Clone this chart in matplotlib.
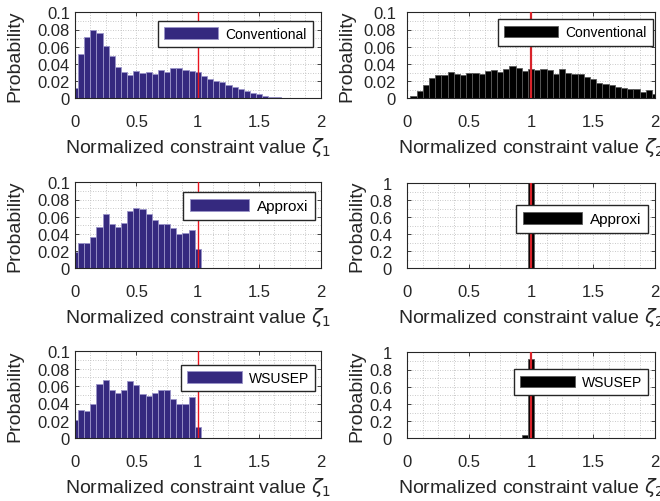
import numpy as np
import matplotlib
matplotlib.use("Agg")
import matplotlib.pyplot as plt
from matplotlib.ticker import MultipleLocator

plt.rcParams["font.family"] = ["Liberation Sans", "DejaVu Sans"]
plt.rcParams["mathtext.fontset"] = "dejavusans"

# Histogram bin centres (bin width 0.05)
bin_centers = np.round(np.arange(41) * 0.05, 2)
bin_width = 0.05

# Normalized constraint value zeta_1 distributions
conv_z1 = [0.0116, 0.0516, 0.0715, 0.0800, 0.0760, 0.0610, 0.0490, 0.0365, 0.0310, 0.0270,
           0.0314, 0.0290, 0.0308, 0.0280, 0.0333, 0.0310, 0.0358, 0.0350, 0.0330, 0.0320,
           0.0306, 0.0260, 0.0228, 0.0205, 0.0185, 0.0158, 0.0135, 0.0105, 0.0080, 0.0060,
           0.0045, 0.0025, 0.0012, 0.0010, 0.0006, 0.0005, 0.0004, 0.0003, 0.0003, 0.0002,
           0.0001]
approx_z1 = [0.0194, 0.0295, 0.0295, 0.0360, 0.0480, 0.0636, 0.0516, 0.0480, 0.0530, 0.0667,
             0.0705, 0.0690, 0.0630, 0.0560, 0.0516, 0.0516, 0.0470, 0.0400, 0.0410, 0.0450,
             0.0220, 0, 0, 0, 0, 0, 0, 0, 0, 0,
             0, 0, 0, 0, 0, 0, 0, 0, 0, 0,
             0]
wsusep_z1 = [0.0215, 0.0320, 0.0310, 0.0400, 0.0620, 0.0674, 0.0560, 0.0520, 0.0560, 0.0655,
             0.0613, 0.0513, 0.0490, 0.0520, 0.0560, 0.0560, 0.0448, 0.0400, 0.0400, 0.0480,
             0.0134, 0, 0, 0, 0, 0, 0, 0, 0, 0,
             0, 0, 0, 0, 0, 0, 0, 0, 0, 0,
             0]

# Normalized constraint value zeta_2 distributions
conv_z2 = [0.0005, 0.0030, 0.0080, 0.0155, 0.0236, 0.0270, 0.0270, 0.0306, 0.0280, 0.0275,
           0.0300, 0.0300, 0.0280, 0.0320, 0.0333, 0.0310, 0.0337, 0.0370, 0.0350, 0.0320,
           0.0337, 0.0333, 0.0340, 0.0333, 0.0283, 0.0340, 0.0290, 0.0283, 0.0280, 0.0248,
           0.0220, 0.0174, 0.0163, 0.0151, 0.0136, 0.0124, 0.0112, 0.0109, 0.0078, 0.0097,
           0.0050]
approx_z2 = [0, 0, 0, 0, 0, 0, 0, 0, 0, 0,
             0, 0, 0, 0, 0, 0, 0, 0, 0, 0,
             1.0, 0, 0, 0, 0, 0, 0, 0, 0, 0,
             0, 0, 0, 0, 0, 0, 0, 0, 0, 0,
             0]
wsusep_z2 = [0, 0, 0, 0, 0, 0, 0, 0, 0, 0,
             0, 0, 0, 0, 0, 0, 0, 0.001, 0.004, 0.043,
             0.922, 0, 0, 0, 0, 0, 0, 0, 0, 0,
             0, 0, 0, 0, 0, 0, 0, 0, 0, 0,
             0]

series_names = ["Conventional", "Approxi", "WSUSEP"]
x_ticks = [0, 0.5, 1, 1.5, 2]
x_ticklabels = ["0", "0.5", "1", "1.5", "2"]
y_ticks_small = [0, 0.02, 0.04, 0.06, 0.08, 0.1]
y_ticklabels_small = ["0", "0.02", "0.04", "0.06", "0.08", "0.1"]
y_ticks_large = [0, 0.2, 0.4, 0.6, 0.8, 1]
y_ticklabels_large = ["0", "0.2", "0.4", "0.6", "0.8", "1"]

W, H = 660, 502
fig = plt.figure(figsize=(W / 100, H / 100), dpi=100)


def px_axes(x0, y0, x1, y1):
    return fig.add_axes([x0 / W, 1 - y1 / H, (x1 - x0) / W, (y1 - y0) / H])


BLUE = "#35297f"
BLUE_EDGE = "#9a93c8"
BLACK = "#000000"
BLACK_EDGE = "#5a5a5a"
INK = "#262626"

panels = [
    # rect px, data, colour, edge, legend name, zeta index, y kind,
    # legend anchor, legend fontsize, y tick pad, ylabel right edge (axes frac)
    ((75, 13.3, 320.5, 99.3), conv_z1, BLUE, BLUE_EDGE, series_names[0], 1, "small",
     (0.969, 0.902), 10, 3.6, -0.212),
    ((407.3, 13.3, 655, 99.3), conv_z2, BLACK, BLACK_EDGE, series_names[0], 2, "small",
     (0.992, 0.922), 10, 8.2, -0.211),
    ((75, 183.3, 320.5, 269.3), approx_z1, BLUE, BLUE_EDGE, series_names[1], 1, "small",
     (0.978, 0.891), 11, 3.6, -0.212),
    ((407.3, 184, 655, 269.3), approx_z2, BLACK, BLACK_EDGE, series_names[1], 2, "large",
     (0.972, 0.746), 11, 11, -0.169),
    ((75, 352.3, 320.5, 439.3), wsusep_z1, BLUE, BLUE_EDGE, series_names[2], 1, "small",
     (0.978, 0.846), 10, 3.6, -0.212),
    ((407.3, 353.3, 655, 439.3), wsusep_z2, BLACK, BLACK_EDGE, series_names[2], 2, "large",
     (0.972, 0.806), 10, 11, -0.169),
]

for rect, values, color, edge, name, zi, ykind, anchor, lfs, ypad, ylab_x in panels:
    ax = px_axes(*rect)
    ax.bar(bin_centers, values, width=bin_width, color=color, edgecolor=edge,
           linewidth=0.6, label=name, zorder=2)
    ax.axvline(1.0, color="#e8141e" if zi == 1 else "#d8232a",
               linewidth=1.0 if zi == 1 else 1.6, zorder=3)
    ax.set_xlim(0, 2)
    ax.set_xticks(x_ticks)
    ax.set_xticklabels(x_ticklabels)
    ax.xaxis.set_minor_locator(MultipleLocator(0.125))
    if ykind == "small":
        ax.set_ylim(0, 0.1)
        ax.set_yticks(y_ticks_small)
        ax.set_yticklabels(y_ticklabels_small)
        ax.yaxis.set_minor_locator(MultipleLocator(0.01))
    else:
        ax.set_ylim(0, 1)
        ax.set_yticks(y_ticks_large)
        ax.set_yticklabels(y_ticklabels_large)
        ax.yaxis.set_minor_locator(MultipleLocator(0.1))
    ax.grid(True, which="both", color="#b8b8b8", linestyle=(0, (1, 2)), linewidth=0.6, zorder=0)
    ax.set_axisbelow(True)
    ax.tick_params(which="major", direction="in", length=3, width=0.6,
                   top=True, right=True, labelsize=12, colors=INK)
    ax.tick_params(axis="x", which="major", pad=11)
    ax.tick_params(axis="y", which="major", pad=ypad)
    ax.tick_params(which="minor", length=0)
    for sp in ax.spines.values():
        sp.set_color(INK)
        sp.set_linewidth(0.8)
    ax.set_ylabel("Probability", fontsize=14, color=INK)
    ax.yaxis.set_label_coords(ylab_x, 0.5)
    ax.set_xlabel(r"Normalized constraint value $\zeta_{%d}$" % zi, fontsize=14,
                  color=INK, labelpad=4.5)
    leg = ax.legend(loc="upper right", bbox_to_anchor=anchor, borderaxespad=0,
                    fontsize=lfs, handlelength=3.9, handleheight=0.9,
                    handletextpad=0.5, borderpad=0.45, fancybox=False,
                    framealpha=1, edgecolor=INK)
    leg.get_frame().set_linewidth(1.0)
    leg.set_zorder(5)

fig.savefig("out.png", dpi=100)
